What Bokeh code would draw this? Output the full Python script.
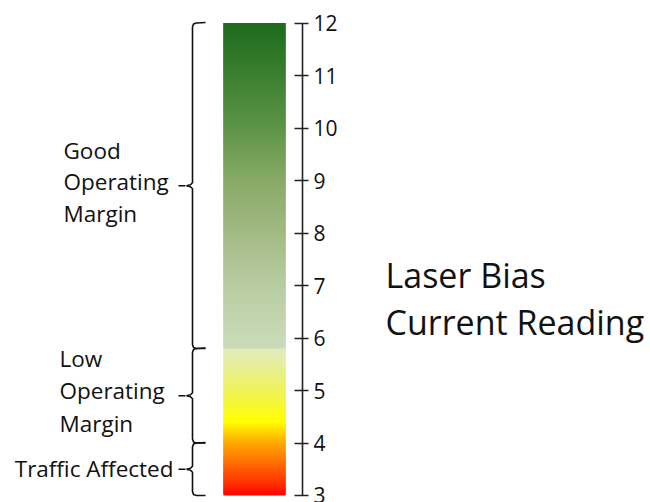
import numpy as np
from bokeh.plotting import figure
from bokeh.models import Range1d, LinearAxis, FixedTicker
from bokeh.embed import file_html
from bokeh.resources import INLINE
from bokeh.core.properties import value

# ---------------- data ----------------
tick_values = [3, 4, 5, 6, 7, 8, 9, 10, 11, 12]
scale_min = 3.0
scale_max = 12.0

zone_lower = [5.8, 4.0, 3.0]
zone_upper = [12.0, 5.8, 4.0]
zone_lines = [["Good", "Operating", "Margin"],
              ["Low", "Operating", "Margin"],
              ["Traffic Affected"]]

# colour stops of the bar (value -> colour); two segments, split at 5.8
low_stop_values = [3.0, 3.2, 3.6, 4.0, 4.4, 4.9, 5.4, 5.8]
low_stop_colors = ["#ff0000", "#ff2a00", "#ff6a00", "#ffa800", "#ffff00", "#f2f44c", "#e8ef90", "#e0ebc0"]
high_stop_values = [5.8, 6.0, 7.0, 8.0, 9.0, 10.0, 11.0, 12.0]
high_stop_colors = ["#cbdbbb", "#c8d9b6", "#b8cca2", "#a2ba84", "#88aa66", "#5e9448", "#3c7f30", "#1d6b1d"]

title_lines = ["Laser Bias", "Current Reading"]

# ---------------- layout ----------------
W, H = 650, 502
PX_PER_UNIT = 52.5
TOP_PAGE_Y = 22.5          # page y of the scale maximum
y_hi = scale_max + TOP_PAGE_Y / PX_PER_UNIT
y_lo = y_hi - H / PX_PER_UNIT
U = 1.0 / PX_PER_UNIT      # one pixel in value units


def page_y(py):
    return scale_max - (py - TOP_PAGE_Y) / PX_PER_UNIT


def hex2rgb(h):
    h = h.lstrip("#")
    return np.array([int(h[i:i + 2], 16) for i in (0, 2, 4)], dtype=float)


def colours_for(vals, stop_v, stop_c):
    rgb = np.array([hex2rgb(c) for c in stop_c])
    out = []
    for v in vals:
        r = np.interp(v, stop_v, rgb[:, 0])
        g = np.interp(v, stop_v, rgb[:, 1])
        b = np.interp(v, stop_v, rgb[:, 2])
        out.append("#%02x%02x%02x" % (int(round(r)), int(round(g)), int(round(b))))
    return out


p = figure(width=W, height=H, x_range=Range1d(0, W), y_range=Range1d(y_lo, y_hi),
           x_axis_location=None, y_axis_location=None, min_border=0,
           outline_line_color=None, toolbar_location=None, output_backend="svg",
           background_fill_color="white", border_fill_color="white")
p.xgrid.visible = False
p.ygrid.visible = False

# ---------------- gradient bar ----------------
BAR_L, BAR_R = 223, 285
step = 0.02
bottoms, tops, cols = [], [], []
for sv, sc in [(low_stop_values, low_stop_colors), (high_stop_values, high_stop_colors)]:
    lo_v, hi_v = sv[0], sv[-1]
    n = int(round((hi_v - lo_v) / step))
    edges = np.linspace(lo_v, hi_v, n + 1)
    mids = (edges[:-1] + edges[1:]) / 2
    bottoms += list(edges[:-1])
    tops += list(np.minimum(edges[1:] + 2 * U, scale_max))
    cols += colours_for(mids, sv, sc)
p.quad(left=BAR_L, right=BAR_R, bottom=bottoms, top=tops, fill_color=cols, line_color=None)

# ---------------- axis ----------------
ax = LinearAxis(fixed_location=302, bounds=(scale_min, scale_max),
                ticker=FixedTicker(ticks=tick_values, minor_ticks=[]),
                major_tick_in=8, major_tick_out=6, minor_tick_in=0, minor_tick_out=0,
                axis_line_color="#222222", axis_line_width=1.6,
                major_tick_line_color="#222222", major_tick_line_width=1.4,
                major_label_text_font="Open Sans", major_label_text_font_size="21px",
                major_label_text_color="#111111", major_label_standoff=5)
p.add_layout(ax, "right")

# ---------------- braces ----------------
VX = 192      # vertical stroke
TIPX = 186    # cusp tip
HOOKX = 205   # end hooks
bx, by = [], []
for lo_v, hi_v in zip(zone_lower, zone_upper):
    mid = (lo_v + hi_v) / 2
    xs = [HOOKX, VX + 4, VX + 1, VX, VX, VX - 2, TIPX, VX - 2, VX, VX, VX + 1, VX + 4, HOOKX]
    ys = [hi_v + 0.5 * U, hi_v, hi_v - 1 * U, hi_v - 4 * U,
          mid + 3 * U, mid + 1 * U, mid, mid - 1 * U, mid - 3 * U,
          lo_v + 4 * U, lo_v + 1 * U, lo_v, lo_v]
    bx.append(xs)
    by.append(ys)
p.multi_line(xs=bx, ys=by, line_color="#111111", line_width=1.6)

# leader dashes
mids = [(a + b) / 2 for a, b in zip(zone_lower, zone_upper)]
p.segment(x0=[178] * 3, x1=[185] * 3, y0=mids, y1=mids, line_color="#111111", line_width=1.6)

# ---------------- zone labels ----------------
LINE_GAP = 31.5 * U
tx, ty, tt, ta = [], [], [], []
left_x = [63, 59]
block_shift = [4 * U, 5 * U]
for i, lines in enumerate(zone_lines):
    mid = mids[i]
    if len(lines) == 1:
        tx.append(173); ty.append(mid + 1 * U); tt.append(lines[0]); ta.append("right")
    else:
        gap = LINE_GAP if i == 0 else 32.5 * U
        for k, s in enumerate(lines):
            tx.append(left_x[i]); ty.append(mid + block_shift[i] + (1 - k) * gap); tt.append(s); ta.append("left")
p.text(x=tx, y=ty, text=tt, text_align=ta, text_baseline="middle",
       text_font=value("Open Sans"), text_font_size="22.5px", text_color="#111111")

# ---------------- title ----------------
p.text(x=[385, 385], y=[page_y(274), page_y(321)], text=title_lines,
       text_align="left", text_baseline="alphabetic",
       text_font=value("Open Sans"), text_font_size="34px", text_color="#111111")

open("out.html", "w").write(file_html(p, INLINE))
